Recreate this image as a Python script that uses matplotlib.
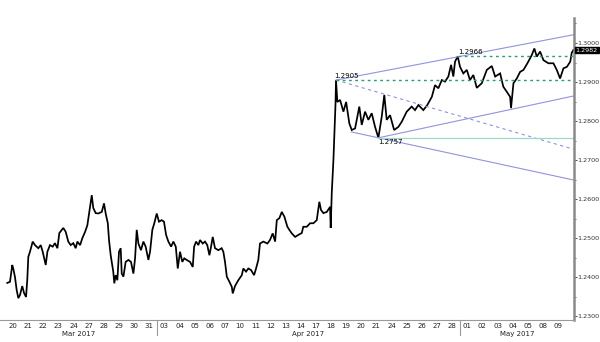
import matplotlib
matplotlib.use("Agg")
import matplotlib.pyplot as plt
import matplotlib.transforms as mtransforms
from matplotlib.ticker import MultipleLocator

# trading-day axis: 0 = Mon 20 Mar 2017, weekends removed
day_labels = ["20", "21", "22", "23", "24", "27", "28", "29", "30", "31",
              "03", "04", "05", "06", "07", "10", "11", "12", "13", "14",
              "17", "18", "19", "20", "21", "24", "25", "26", "27", "28",
              "01", "02", "03", "04", "05", "08", "09"]
months = ["Mar 2017", "Apr 2017", "May 2017"]
month_breaks = [9.5, 29.5]

# price path (trading-day offset, GBP/USD)
t = [-0.38, -0.20, -0.05, 0.02, 0.13, 0.24, 0.35, 0.46, 0.61, 0.73,
     0.86, 0.94, 1.01, 1.12, 1.30, 1.45, 1.67, 1.83, 1.96, 2.16,
     2.27, 2.44, 2.62, 2.77, 2.93, 3.06, 3.22, 3.32, 3.48, 3.65,
     3.81, 3.98, 4.14, 4.25, 4.43, 4.58, 4.76, 4.91, 5.04, 5.20,
     5.30, 5.46, 5.63, 5.86, 6.01, 6.12, 6.26, 6.34, 6.45, 6.62,
     6.69, 6.78, 6.89, 7.00, 7.11, 7.18, 7.29, 7.44, 7.62, 7.79,
     7.95, 8.06, 8.17, 8.28, 8.45, 8.61, 8.76, 8.94, 9.05, 9.20,
     9.33, 9.49, 9.64, 9.82, 9.97, 10.11, 10.26, 10.44, 10.59, 10.75,
     10.88, 11.03, 11.18, 11.31, 11.47, 11.69, 11.87, 11.96, 12.09, 12.24,
     12.35, 12.53, 12.68, 12.83, 12.97, 13.08, 13.19, 13.34, 13.56, 13.78,
     13.89, 14.00, 14.12, 14.29, 14.45, 14.51, 14.66, 14.88, 15.11, 15.21,
     15.39, 15.54, 15.72, 15.92, 16.05, 16.20, 16.31, 16.53, 16.80, 16.97,
     17.15, 17.31, 17.42, 17.59, 17.75, 17.92, 18.12, 18.25, 18.41, 18.63,
     18.84, 19.07, 19.17, 19.40, 19.62, 19.84, 20.06, 20.23, 20.34, 20.50,
     20.72, 20.94, 20.98, 21.05, 21.16, 21.22, 21.30, 21.33, 21.42, 21.60,
     21.82, 22.00, 22.21, 22.37, 22.59, 22.87, 23.03, 23.25, 23.47, 23.69,
     23.91, 24.13, 24.35, 24.52, 24.68, 24.90, 25.17, 25.45, 25.67, 26.00,
     26.33, 26.55, 26.77, 27.10, 27.36, 27.66, 27.87, 28.09, 28.32, 28.53,
     28.75, 28.93, 29.08, 29.19, 29.37, 29.52, 29.74, 29.97, 30.18, 30.40,
     30.63, 30.96, 31.29, 31.62, 31.84, 32.17, 32.38, 32.61, 32.83, 32.89,
     33.05, 33.27, 33.49, 33.71, 33.97, 34.26, 34.43, 34.59, 34.81, 35.03,
     35.36, 35.69, 35.91, 36.13, 36.35, 36.58, 36.80, 36.90, 37.01]
price = [1.2385, 1.2388, 1.2431, 1.2421, 1.2400, 1.2367, 1.2346, 1.2354, 1.2377, 1.2359,
         1.2349, 1.2392, 1.2452, 1.2465, 1.2491, 1.2482, 1.2474, 1.2482, 1.2465, 1.2431,
         1.2465, 1.2482, 1.2478, 1.2487, 1.2474, 1.2513, 1.2521, 1.2526, 1.2516, 1.2491,
         1.2482, 1.2487, 1.2474, 1.2491, 1.2482, 1.2500, 1.2516, 1.2533, 1.2567, 1.2610,
         1.2577, 1.2564, 1.2563, 1.2567, 1.2589, 1.2563, 1.2538, 1.2495, 1.2456, 1.2414,
         1.2384, 1.2405, 1.2392, 1.2465, 1.2474, 1.2409, 1.2401, 1.2439, 1.2444, 1.2439,
         1.2409, 1.2448, 1.2521, 1.2486, 1.2469, 1.2491, 1.2478, 1.2444, 1.2465, 1.2521,
         1.2538, 1.2563, 1.2542, 1.2546, 1.2542, 1.2508, 1.2491, 1.2478, 1.2491, 1.2478,
         1.2422, 1.2465, 1.2439, 1.2448, 1.2444, 1.2439, 1.2426, 1.2478, 1.2491, 1.2482,
         1.2495, 1.2486, 1.2491, 1.2482, 1.2456, 1.2478, 1.2503, 1.2474, 1.2469, 1.2474,
         1.2465, 1.2439, 1.2401, 1.2388, 1.2375, 1.2358, 1.2377, 1.2392, 1.2405, 1.2422,
         1.2414, 1.2422, 1.2418, 1.2405, 1.2422, 1.2444, 1.2486, 1.2491, 1.2486, 1.2495,
         1.2512, 1.2491, 1.2546, 1.2551, 1.2567, 1.2555, 1.2529, 1.2521, 1.2512, 1.2503,
         1.2508, 1.2513, 1.2529, 1.2529, 1.2538, 1.2538, 1.2546, 1.2593, 1.2572, 1.2564,
         1.2567, 1.2580, 1.2526, 1.2615, 1.2700, 1.2760, 1.2846, 1.2905, 1.2849, 1.2854,
         1.2824, 1.2849, 1.2794, 1.2777, 1.2781, 1.2837, 1.2790, 1.2824, 1.2803, 1.2820,
         1.2785, 1.2757, 1.2811, 1.2867, 1.2803, 1.2815, 1.2777, 1.2785, 1.2798, 1.2824,
         1.2837, 1.2828, 1.2841, 1.2828, 1.2841, 1.2862, 1.2892, 1.2884, 1.2905, 1.2901,
         1.2914, 1.2944, 1.2914, 1.2952, 1.2966, 1.2939, 1.2922, 1.2931, 1.2905, 1.2918,
         1.2885, 1.2897, 1.2931, 1.2941, 1.2914, 1.2922, 1.2888, 1.2875, 1.2862, 1.2833,
         1.2897, 1.2909, 1.2926, 1.2931, 1.2948, 1.2969, 1.2986, 1.2965, 1.2978, 1.2956,
         1.2948, 1.2948, 1.2931, 1.2909, 1.2935, 1.2939, 1.2952, 1.2975, 1.2982]
last_price = 1.2982

# trend lines: (t0, p0, t1, p1)
channel_top = (21.33, 1.2905, 37.0, 1.3021)
fan_dashed = (21.33, 1.2905, 37.0, 1.2728)
channel_low = (22.35, 1.2772, 37.0, 1.2649)
rising_low = (24.13, 1.2757, 37.0, 1.2864)
# horizontal levels: (start t, level)
level_high = (21.33, 1.2905)
level_peak = (29.37, 1.2966)
level_low = (24.13, 1.2757)

fig = plt.figure(figsize=(6, 3.42), dpi=100)
ax = fig.add_axes([0.0, 0.0643, 0.9567, 0.883])

ax.plot(t, price, color="black", lw=1.25, solid_joinstyle="miter")

line_col = "#9393dc"
green = "#2a9d78"
for seg in (channel_top, channel_low, rising_low):
    ax.plot([seg[0], seg[2]], [seg[1], seg[3]], color=line_col, lw=0.8)
ax.plot([fan_dashed[0], fan_dashed[2]], [fan_dashed[1], fan_dashed[3]],
        color=line_col, lw=0.8, ls=(0, (3, 3)))
ax.plot([level_high[0], 37.0], [level_high[1]] * 2, color=green, lw=1.0, ls=(0, (2, 2.5)))
ax.plot([level_peak[0], 37.0], [level_peak[1]] * 2, color=green, lw=1.0, ls=(0, (2, 2.5)))
ax.plot([level_low[0], 37.0], [level_low[1]] * 2, color="#9fd8c4", lw=0.9)

fs = 5.0
ax.text(level_high[0] - 0.1, level_high[1] + 0.0002, "1.2905", fontsize=fs, va="bottom", ha="left")
ax.text(level_peak[0], level_peak[1] + 0.0002, "1.2966", fontsize=fs, va="bottom", ha="left")
ax.text(level_low[0], level_low[1] - 0.0003, "1.2757", fontsize=fs, va="top", ha="left")

ax.set_xlim(-0.86, 37.05)
ax.set_ylim(1.2290, 1.3064)

for s in ("top", "left"):
    ax.spines[s].set_visible(False)
ax.spines["right"].set_color("#8a8a8a")
ax.spines["right"].set_linewidth(1.8)
ax.spines["bottom"].set_color("#9a9a9a")
ax.spines["bottom"].set_linewidth(0.8)

ax.yaxis.tick_right()
ax.yaxis.set_major_locator(MultipleLocator(0.01))
ax.yaxis.set_minor_locator(MultipleLocator(0.005))
ax.yaxis.set_major_formatter(matplotlib.ticker.FormatStrFormatter("%.4f"))
ax.tick_params(axis="y", which="major", labelsize=4.6, length=2, width=0.6, pad=0.5, colors="#333333")
ax.tick_params(axis="y", which="minor", length=1.5, width=0.6, color="#555555")

ax.set_xticks(range(len(day_labels)))
ax.set_xticklabels(day_labels)
ax.tick_params(axis="x", length=0, labelsize=fs, pad=2.5, colors="#222222")

# month separators and month names
trans = mtransforms.blended_transform_factory(ax.transData, ax.transAxes)
for b in month_breaks:
    ax.plot([b, b], [0, -0.048], color="#9a9a9a", lw=0.8, transform=trans, clip_on=False)
edges = [-0.86] + month_breaks + [37.05]
for i, m in enumerate(months):
    ax.text((edges[i] + edges[i + 1]) / 2, -0.037, m, transform=trans,
            fontsize=fs, ha="center", va="top", color="#222222")

# last price tag
ax.annotate(f"{last_price:.4f}", xy=(1.0, last_price), xycoords=("axes fraction", "data"),
            xytext=(1.2, 0), textcoords="offset points", fontsize=4.6, color="white",
            va="center", ha="left",
            bbox=dict(boxstyle="square,pad=0.15", fc="black", ec="black"))

fig.savefig("out.png", dpi=100)
